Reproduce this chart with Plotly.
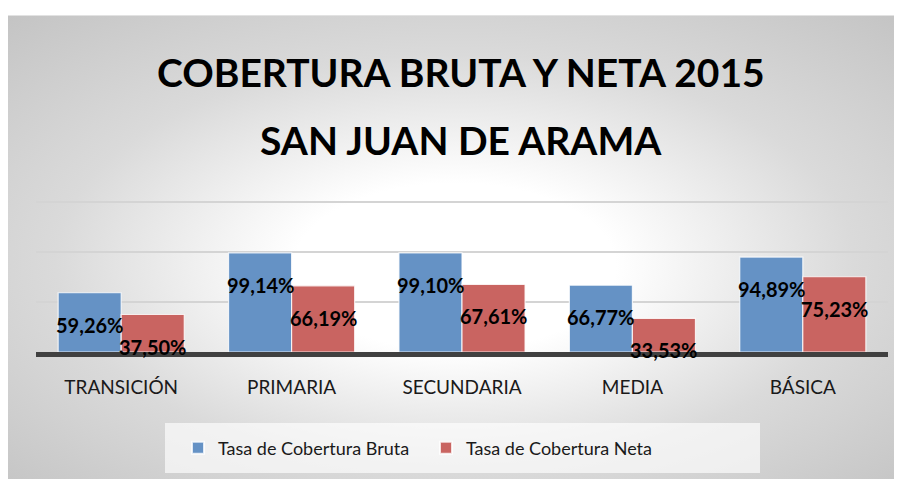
import base64
import plotly.graph_objects as go

categories = ["TRANSICIÓN", "PRIMARIA", "SECUNDARIA", "MEDIA", "BÁSICA"]
bruta = [59.26, 99.14, 99.10, 66.77, 94.89]
neta = [37.50, 66.19, 67.61, 33.53, 75.23]
series_names = ["Tasa de Cobertura Bruta", "Tasa de Cobertura Neta"]
title_lines = ["COBERTURA BRUTA Y NETA 2015", "SAN JUAN DE ARAMA"]

# page has an 8px body margin, so the figure is 894x471 inside the 902x479 window
W, H = 894, 471
L, R, T, B = 28, 14, 189, 127
plot_h = H - T - B  # 155 px for 155 units
plot_w = W - L - R

FONT = "Lato, Open Sans, sans-serif"
BLUE = "#6592C5"
RED = "#C96461"

bargap = 0.26
half = (1 - bargap) / 4  # offset of each bar center from category center

xs = list(range(len(categories)))

svg = f'''<svg xmlns="http://www.w3.org/2000/svg" width="{W}" height="{H}" viewBox="0 0 {W} {H}">
<defs><radialGradient id="g" cx="0.5" cy="0.52" r="0.72" fx="0.5" fy="0.55">
<stop offset="0" stop-color="#ffffff"/>
<stop offset="0.25" stop-color="#ffffff"/>
<stop offset="0.62" stop-color="#dadada"/>
<stop offset="1" stop-color="#c4c4c4"/>
</radialGradient></defs>
<rect x="0" y="0" width="{W}" height="{H}" fill="#ffffff"/>
<rect x="0" y="7" width="{W}" height="{H-7}" fill="url(#g)"/>
<line x1="0" y1="7.5" x2="{W}" y2="7.5" stroke="#e2e2e2" stroke-width="1"/>
</svg>'''
bg_uri = "data:image/svg+xml;base64," + base64.b64encode(svg.encode()).decode()

fig = go.Figure()
fig.add_trace(go.Bar(x=xs, y=bruta, name=series_names[0],
                     marker=dict(color=BLUE, line=dict(color="rgba(255,255,255,0.8)", width=1.2))))
fig.add_trace(go.Bar(x=xs, y=neta, name=series_names[1],
                     marker=dict(color=RED, line=dict(color="rgba(255,255,255,0.8)", width=1.2))))

annotations = []
def fmt(v):
    return f"{v:.2f}".replace(".", ",") + "%"
for i, (b, n) in enumerate(zip(bruta, neta)):
    for off, v in ((-half, b), (half, n)):
        annotations.append(dict(x=i + off, y=v, xref="x", yref="y", text=fmt(v), showarrow=False,
                                yshift=-32, yanchor="middle", xanchor="center",
                                font=dict(family=FONT, size=20, color="#000000", weight="bold")))

def py_to_paper(py):
    return (H - B - py) / plot_h

def px_to_paper(px):
    return (px - L) / plot_w

for line, py in zip(title_lines, (64, 132)):
    annotations.append(dict(x=px_to_paper(453), y=py_to_paper(py), xref="paper", yref="paper", text=line,
                            showarrow=False, xanchor="center", yanchor="middle",
                            font=dict(family=FONT, size=39, color="#000000", weight="bold")))

fig.update_layout(
    width=W, height=H,
    margin=dict(l=L, r=R, t=T, b=B, pad=0),
    paper_bgcolor="white",
    plot_bgcolor="rgba(0,0,0,0)",
    barmode="group", bargap=bargap, bargroupgap=0,
    showlegend=True,
    legend=dict(orientation="h", x=px_to_paper(170), xanchor="left", y=py_to_paper(440), yanchor="middle",
                bgcolor="rgba(0,0,0,0)", font=dict(family=FONT, size=18, color="#1a1a1a"),
                entrywidth=203, itemsizing="constant"),
    images=[dict(source=bg_uri, xref="paper", yref="paper", x=-L / plot_w, y=1 + T / plot_h,
                 sizex=W / plot_w, sizey=H / plot_h, xanchor="left", yanchor="top",
                 sizing="stretch", layer="below")],
    shapes=[dict(type="rect", xref="paper", yref="paper", x0=px_to_paper(157), x1=px_to_paper(752),
                 y0=py_to_paper(465), y1=py_to_paper(415), fillcolor="rgba(255,255,255,0.65)",
                 line=dict(width=0), layer="below")],
    annotations=annotations,
    xaxis=dict(range=[-0.5, len(categories) - 0.5], tickvals=xs, ticktext=categories, showgrid=False,
               zeroline=False, showline=True, linecolor="#404040", linewidth=5, ticks="",
               tickfont=dict(family=FONT, size=19, color="#1a1a1a"), ticklabelstandoff=14),
    yaxis=dict(range=[0, 155], tickvals=[50, 100, 150], showticklabels=False, showgrid=True,
               gridcolor="#d4d4d4", gridwidth=1.5, zeroline=False, showline=False, ticks=""),
)

fig.write_html("out.html")
